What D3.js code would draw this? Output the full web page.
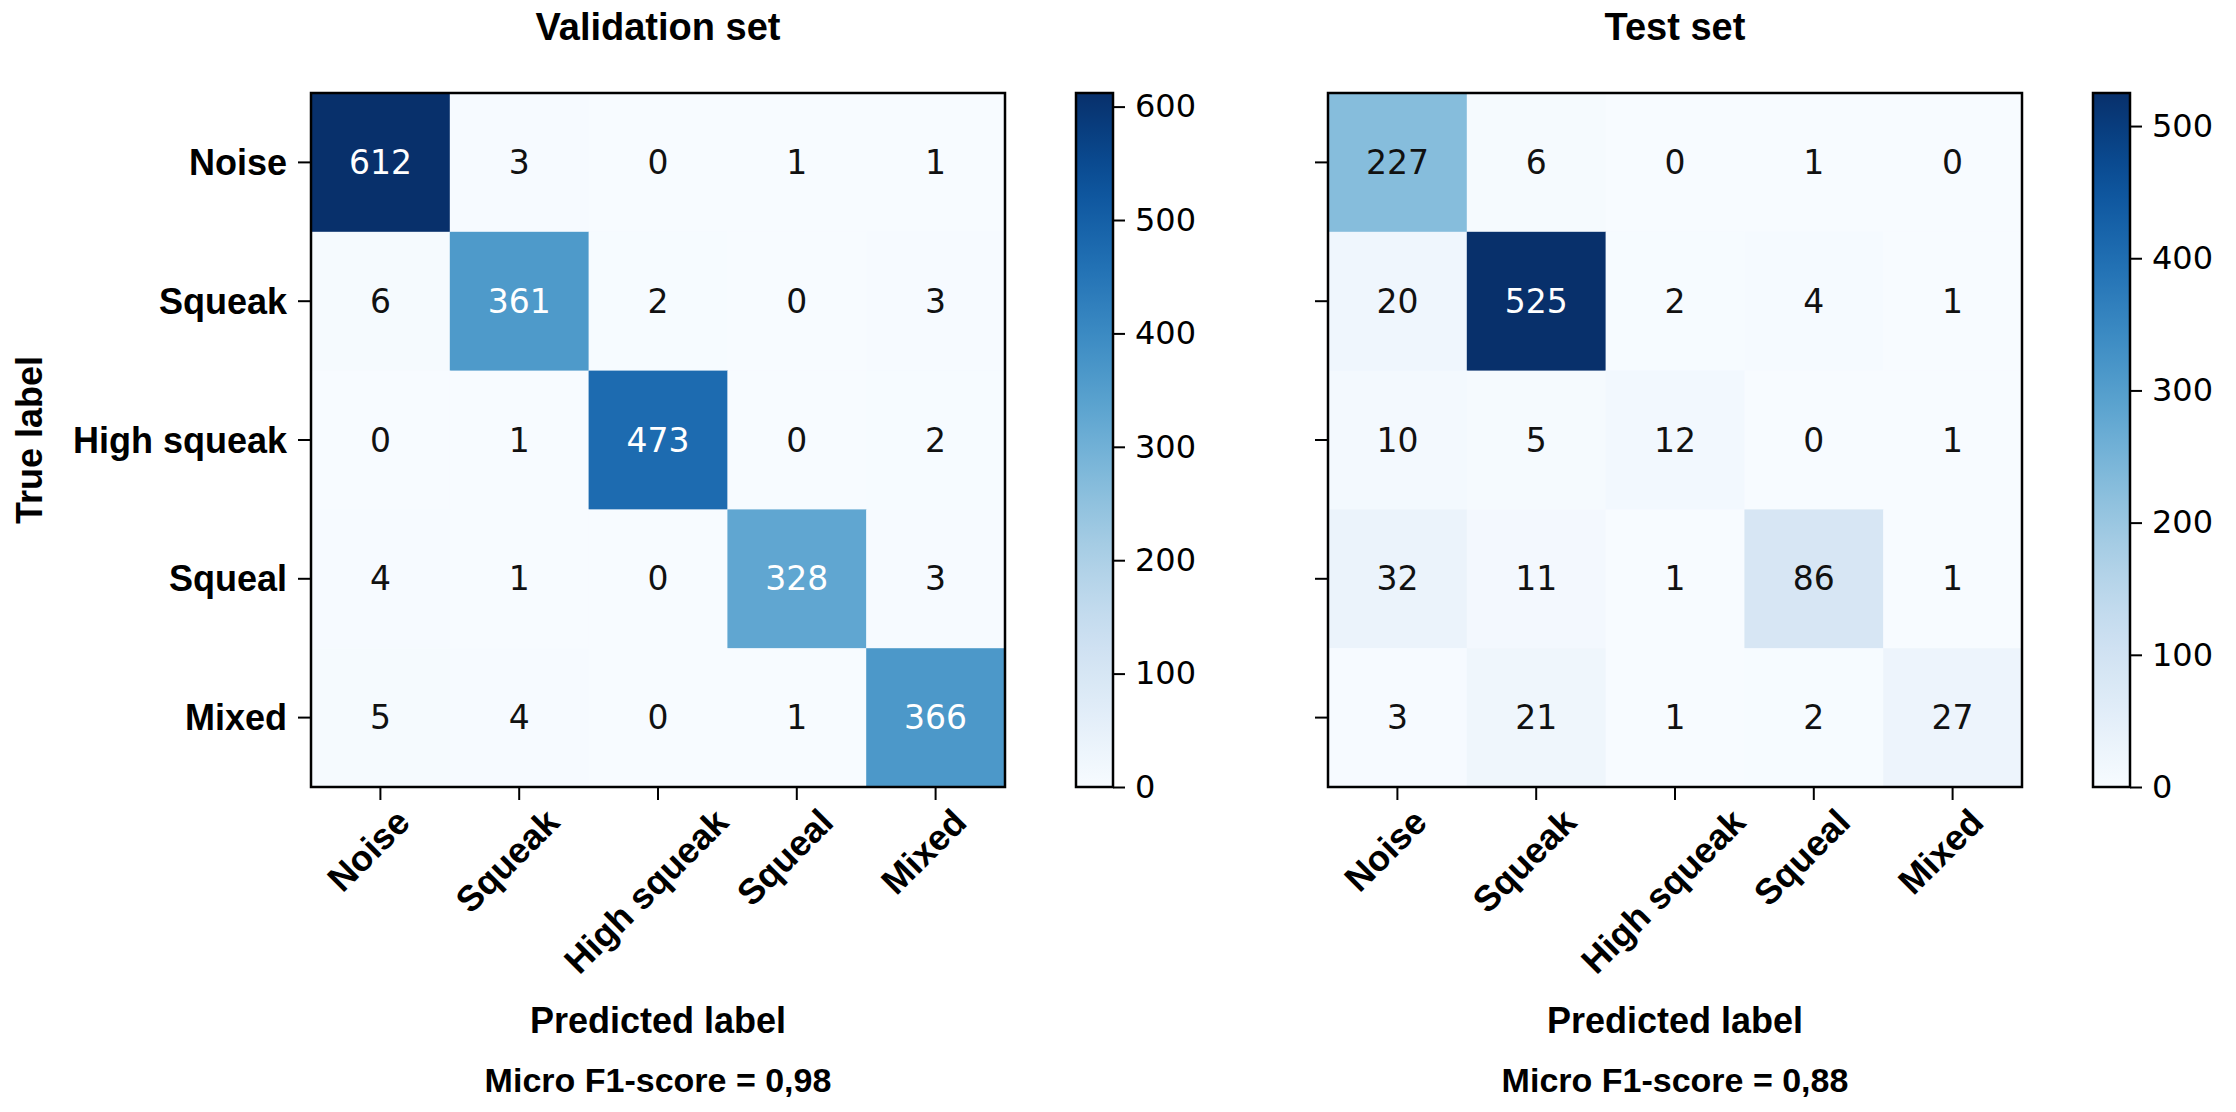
<!DOCTYPE html>
<html>
<head>
<meta charset="utf-8">
<script src="https://cdn.jsdelivr.net/npm/d3@7"></script>
<style>
  body { margin: 0; background: #fff; }
  .lbl { font-family: "Liberation Sans", Arial, sans-serif; font-weight: bold; fill: #000; }
  .num { font-family: "DejaVu Sans", sans-serif; }
</style>
</head>
<body>
<div class="container"></div>
<script>
var classes = ["Noise", "Squeak", "High squeak", "Squeal", "Mixed"];
var valCounts = [
  [612, 3, 0, 1, 1],
  [6, 361, 2, 0, 3],
  [0, 1, 473, 0, 2],
  [4, 1, 0, 328, 3],
  [5, 4, 0, 1, 366]
];
var testCounts = [
  [227, 6, 0, 1, 0],
  [20, 525, 2, 4, 1],
  [10, 5, 12, 0, 1],
  [32, 11, 1, 86, 1],
  [3, 21, 1, 2, 27]
];
var titles = ["Validation set", "Test set"];
var f1Scores = ["0,98", "0,88"];
var valTicks = [0, 100, 200, 300, 400, 500, 600];
var testTicks = [0, 100, 200, 300, 400, 500];

var W = 2236, H = 1112;
var svg = d3.select('.container').append('svg')
  .attr('width', W).attr('height', H);

var size = 694, top0 = 93;
var panels = [
  {x: 311, counts: valCounts, ticks: valTicks, title: titles[0], f1: f1Scores[0], ylabels: true},
  {x: 1328, counts: testCounts, ticks: testTicks, title: titles[1], f1: f1Scores[1], ylabels: false}
];

var defs = svg.append('defs');

panels.forEach(function(p, pi) {
  var flat = [];
  p.counts.forEach(function(row, i) {
    row.forEach(function(v, j) { flat.push({r: i, c: j, v: v}); });
  });
  var vmax = d3.max(flat, function(d) { return d.v; });
  var color = d3.scaleSequential(d3.interpolateBlues).domain([0, vmax]);

  var xScale = d3.scaleBand().domain(classes).range([0, size]);
  var yScale = d3.scaleBand().domain(classes).range([0, size]);

  var g = svg.append('g').attr('transform', 'translate(' + p.x + ',' + top0 + ')');

  /* --- cells --- */
  g.selectAll('rect.cell').data(flat).enter().append('rect')
    .attr('class', 'cell')
    .attr('x', function(d) { return xScale(classes[d.c]); })
    .attr('y', function(d) { return yScale(classes[d.r]); })
    .attr('width', xScale.bandwidth() + 0.5)
    .attr('height', yScale.bandwidth() + 0.5)
    .attr('fill', function(d) { return color(d.v); });

  g.selectAll('text.num').data(flat).enter().append('text')
    .attr('class', 'num')
    .attr('x', function(d) { return xScale(classes[d.c]) + xScale.bandwidth() / 2; })
    .attr('y', function(d) { return yScale(classes[d.r]) + yScale.bandwidth() / 2; })
    .attr('text-anchor', 'middle')
    .attr('dominant-baseline', 'central')
    .attr('font-size', '33px')
    .attr('fill', function(d) { return d.v > vmax / 2 ? '#fff' : '#111'; })
    .text(function(d) { return d.v; });

  g.append('rect')
    .attr('width', size).attr('height', size)
    .attr('fill', 'none').attr('stroke', '#000').attr('stroke-width', 2.5);

  /* --- y ticks --- */
  g.selectAll('line.yt').data(classes).enter().append('line')
    .attr('x1', -13).attr('x2', 0)
    .attr('y1', function(d) { return yScale(d) + yScale.bandwidth() / 2; })
    .attr('y2', function(d) { return yScale(d) + yScale.bandwidth() / 2; })
    .attr('stroke', '#000').attr('stroke-width', 2);
  if (p.ylabels) {
    g.selectAll('text.yl').data(classes).enter().append('text')
      .attr('class', 'lbl')
      .attr('x', -24)
      .attr('y', function(d) { return yScale(d) + yScale.bandwidth() / 2; })
      .attr('text-anchor', 'end')
      .attr('dominant-baseline', 'central')
      .attr('font-size', '36px')
      .text(function(d) { return d; });
  }

  /* --- x ticks, rotated labels --- */
  g.selectAll('line.xt').data(classes).enter().append('line')
    .attr('y1', size).attr('y2', size + 13)
    .attr('x1', function(d) { return xScale(d) + xScale.bandwidth() / 2; })
    .attr('x2', function(d) { return xScale(d) + xScale.bandwidth() / 2; })
    .attr('stroke', '#000').attr('stroke-width', 2);

  var xl = g.selectAll('text.xl').data(classes).enter().append('text')
    .attr('class', 'lbl')
    .attr('font-size', '36px')
    .attr('text-anchor', 'middle')
    .attr('dominant-baseline', 'central')
    .text(function(d) { return d; });
  xl.each(function(d) {
    var L = this.getComputedTextLength();
    var h = 30;
    var s = Math.SQRT1_2;
    var cx = xScale(d) + xScale.bandwidth() / 2 - 12;
    var cy = size + 18 + (L * s + h * s) / 2;
    d3.select(this).attr('x', cx).attr('y', cy)
      .attr('transform', 'rotate(-45,' + cx + ',' + cy + ')');
  });

  /* --- titles --- */
  g.append('text').attr('class', 'lbl')
    .attr('x', size / 2).attr('y', 40 - top0)
    .attr('text-anchor', 'middle').attr('font-size', '38px')
    .text(p.title);
  g.append('text').attr('class', 'lbl')
    .attr('x', size / 2).attr('y', 1033 - top0)
    .attr('text-anchor', 'middle').attr('font-size', '36px')
    .text('Predicted label');
  g.append('text').attr('class', 'lbl')
    .attr('x', size / 2).attr('y', 1092 - top0)
    .attr('text-anchor', 'middle').attr('font-size', '34px')
    .text('Micro F1-score = ' + p.f1);

  /* --- colorbar --- */
  var gid = 'grad' + pi;
  var grad = defs.append('linearGradient').attr('id', gid)
    .attr('x1', 0).attr('y1', 1).attr('x2', 0).attr('y2', 0);
  d3.range(0, 1.0001, 0.05).forEach(function(t) {
    grad.append('stop').attr('offset', t).attr('stop-color', d3.interpolateBlues(t));
  });
  var cbX = size + 71, cbW = 37;
  var cScale = d3.scaleLinear().domain([0, vmax]).range([size, 0]);
  g.append('rect').attr('x', cbX).attr('y', 0)
    .attr('width', cbW).attr('height', size)
    .attr('fill', 'url(#' + gid + ')')
    .attr('stroke', '#000').attr('stroke-width', 2.5);
  var cAxis = d3.axisRight(cScale).tickValues(p.ticks).tickSize(12).tickPadding(10);
  var ca = g.append('g')
    .attr('transform', 'translate(' + (cbX + cbW) + ',0)')
    .call(cAxis);
  ca.select('.domain').remove();
  ca.selectAll('line').attr('stroke', '#000').attr('stroke-width', 2);
  ca.selectAll('text')
    .attr('font-family', '"DejaVu Sans", sans-serif')
    .attr('font-size', '32px')
    .attr('fill', '#000');
});

svg.append('text').attr('class', 'lbl')
  .attr('transform', 'translate(42,440) rotate(-90)')
  .attr('text-anchor', 'middle').attr('font-size', '36px')
  .text('True label');
</script>
</body>
</html>
